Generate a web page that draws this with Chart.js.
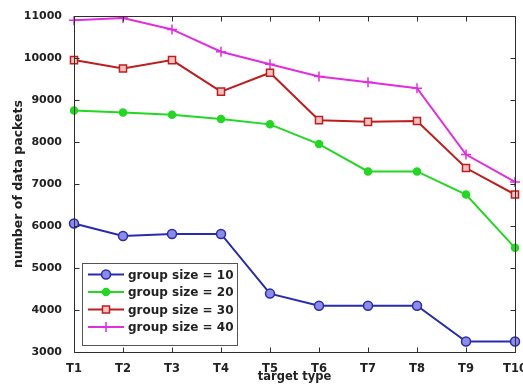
<!DOCTYPE html>
<html>
<head>
<meta charset="utf-8">
<script src="https://cdn.jsdelivr.net/npm/chart.js@4.4.1/dist/chart.umd.min.js"></script>
<style>
  html, body { margin: 0; padding: 0; background: #fff; }
  #wrap { width: 523px; height: 385px; }
</style>
</head>
<body>
<div id="wrap"><canvas id="packets"></canvas></div>
<script>
var targets = ['T1', 'T2', 'T3', 'T4', 'T5', 'T6', 'T7', 'T8', 'T9', 'T10'];

var size10 = [6060, 5760, 5810, 5810, 4390, 4100, 4100, 4100, 3250, 3250];
var size20 = [8750, 8700, 8650, 8550, 8420, 7950, 7300, 7300, 6750, 5480];
var size30 = [9950, 9750, 9950, 9200, 9650, 8520, 8480, 8500, 7380, 6750];
var size40 = [10900, 10950, 10680, 10150, 9850, 9560, 9420, 9280, 7700, 7050];

var groupLabels = ['group size = 10', 'group size = 20', 'group size = 30', 'group size = 40'];

var blue = '#2a2ab0';
var green = '#22d822';
var red = '#bf1e1e';
var magenta = '#e02ee0';

var fam = '"DejaVu Sans", sans-serif';

// box frame + inward ticks on all four sides
var frameTicks = {
  id: 'frameTicks',
  afterDraw: function(chart) {
    var c = chart.ctx;
    var a = chart.chartArea;
    var xs = chart.scales.x, ys = chart.scales.y;
    var L = Math.round(a.left) + 0.5, R = Math.round(a.right) + 0.5;
    var T = Math.round(a.top) + 0.5, B = Math.round(a.bottom) + 0.5;
    c.save();
    c.strokeStyle = '#2e2e2e';
    c.lineWidth = 1;
    c.beginPath();
    for (var i = 0; i < targets.length; i++) {
      var px = Math.round(xs.getPixelForValue(i)) + 0.5;
      c.moveTo(px, B); c.lineTo(px, B - 5);
      c.moveTo(px, T); c.lineTo(px, T + 5);
    }
    for (var v = 3000; v <= 11000; v += 1000) {
      var py = Math.round(ys.getPixelForValue(v)) + 0.5;
      c.moveTo(L, py); c.lineTo(L + 5, py);
      c.moveTo(R, py); c.lineTo(R - 5, py);
    }
    c.moveTo(L, T); c.lineTo(R, T); c.lineTo(R, B); c.lineTo(L, B); c.closePath();
    c.stroke();
    c.restore();
  }
};

// legend box drawn inside the plot, lower left
var boxLegend = {
  id: 'boxLegend',
  afterDraw: function(chart) {
    var c = chart.ctx;
    var a = chart.chartArea;
    var x0 = Math.round(a.left) + 8, y0 = Math.round(a.bottom) - 89, w = 155, h = 82;
    c.save();
    c.fillStyle = '#fff';
    c.fillRect(x0, y0, w, h);
    c.strokeStyle = '#555';
    c.lineWidth = 1;
    c.strokeRect(x0 + 0.5, y0 + 0.5, w, h);
    chart.data.datasets.forEach(function(ds, i) {
      var cy = y0 + 11.5 + i * 17.5;
      c.strokeStyle = ds.borderColor;
      c.lineWidth = 2;
      c.beginPath();
      c.moveTo(x0 + 6, cy); c.lineTo(x0 + 42, cy);
      c.stroke();
      c.fillStyle = ds.pointBackgroundColor;
      c.strokeStyle = ds.borderColor;
      c.lineWidth = ds.pointBorderWidth;
      Chart.helpers.drawPoint(c, {
        pointStyle: ds.pointStyle, radius: ds.pointRadius, borderWidth: ds.pointBorderWidth
      }, x0 + 24, cy);
      c.fillStyle = '#222';
      c.font = 'bold 12px ' + fam;
      c.textBaseline = 'middle';
      c.fillText(ds.label, x0 + 46, cy + 1);
    });
    c.restore();
  }
};

function series(label, data, color, style, fill, radius) {
  return {
    label: label,
    data: data,
    borderColor: color,
    backgroundColor: color,
    pointBackgroundColor: fill,
    pointBorderColor: color,
    pointStyle: style,
    pointRadius: radius,
    pointBorderWidth: 1.5,
    borderWidth: 2,
    tension: 0,
    fill: false
  };
}

var ctx = document.getElementById('packets').getContext('2d');
var chart = new Chart(ctx, {
  type: 'line',
  data: {
    labels: targets,
    datasets: [
      series(groupLabels[0], size10, blue, 'circle', '#8c8ce8', 4.5),
      series(groupLabels[1], size20, green, 'circle', green, 3.5),
      series(groupLabels[2], size30, red, 'rect', '#f4c0c0', 5),
      series(groupLabels[3], size40, magenta, 'cross', magenta, 5)
    ]
  },
  options: {
    responsive: true,
    maintainAspectRatio: false,
    animation: false,
    layout: { padding: { top: 16, right: 8, left: 0, bottom: 0 } },
    plugins: {
      legend: { display: false },
      tooltip: { enabled: false }
    },
    scales: {
      x: {
        offset: false,
        grid: { display: false },
        border: { display: false },
        ticks: { color: '#222', font: { family: fam, size: 11.5, weight: 'bold' }, padding: 2, maxRotation: 0, autoSkip: false },
        title: { display: true, text: 'target type', color: '#222', padding: { top: 0, bottom: 1 },
                 font: { family: fam, size: 11.5, weight: 'bold' } },
        afterFit: function(s) { s.height = 33; s.paddingLeft = 0; s.paddingRight = 0; }
      },
      y: {
        min: 3000,
        max: 11000,
        grid: { display: false },
        border: { display: false },
        ticks: {
          stepSize: 1000, color: '#222', padding: 4,
          font: { family: fam, size: 11, weight: 'bold' },
          callback: function(v) { return String(v); }
        },
        title: { display: true, text: 'number of data packets', color: '#222', padding: { top: 11, bottom: 0 },
                 font: { family: fam, size: 12.5, weight: 'bold' } },
        afterFit: function(s) { s.width = 74; }
      }
    }
  },
  plugins: [frameTicks, boxLegend]
});
</script>
</body>
</html>
